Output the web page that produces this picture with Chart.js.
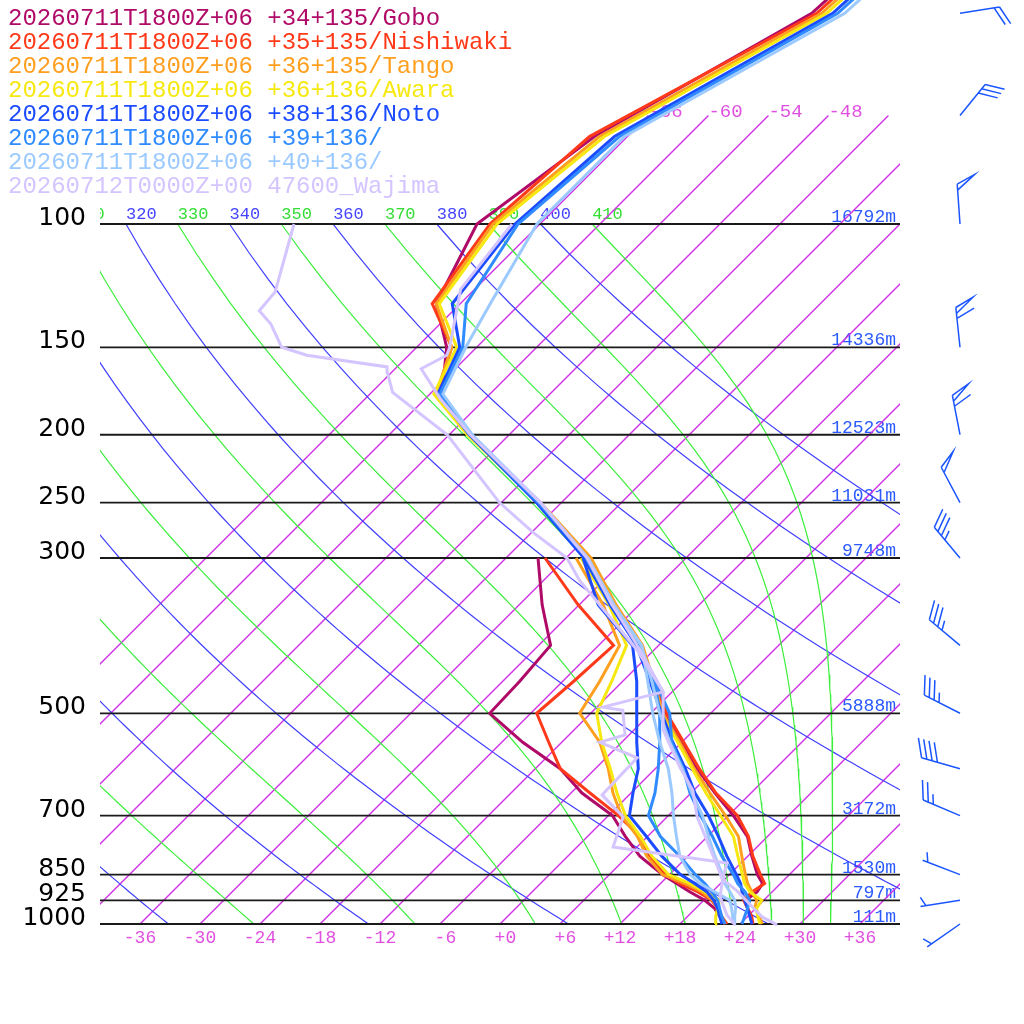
<!DOCTYPE html>
<html><head><meta charset="utf-8">
<script src="https://cdn.jsdelivr.net/npm/chart.js@4.4.1/dist/chart.umd.min.js"></script>
<style>html,body{margin:0;padding:0;background:#fff;}canvas{display:block;}</style>
</head><body>
<canvas id="c" width="1024" height="1024" style="width:1024px;height:1024px"></canvas>
<script>
// ---------------- data ----------------
const LEVELS = [1000,975,950,925,900,875,850,800,750,700,650,600,550,500,450,400,350,300,250,200,175,150,130,100,75,50,30];
const TD_LEVELS = LEVELS.slice(0,18); // 1000 .. 300 hPa

const STATION_NAMES = [
  "20260711T1800Z+06 +34+135/Gobo",
  "20260711T1800Z+06 +35+135/Nishiwaki",
  "20260711T1800Z+06 +36+135/Tango",
  "20260711T1800Z+06 +36+136/Awara",
  "20260711T1800Z+06 +38+136/Noto",
  "20260711T1800Z+06 +39+136/",
  "20260711T1800Z+06 +40+136/",
  "20260712T0000Z+00 47600_Wajima"
];
const STATION_COLORS = ["#b00a68","#ff3a1a","#ff9f1f","#f6e810","#1c4cff","#2f8bff","#9ccaff","#d4c4ff"];

const GOBO_T      = [25.2,24.3,23.2,22.2,22.5,22.2,20.8,18.4,16.0,12.5,8.4,4.2,0.0,-4.6,-9.1,-13.9,-20.7,-28.1,-38.4,-51.9,-58.8,-63.0,-68.4,-72.3,-69.3,-59.9,-58.3];
const NISHIWAKI_T = [25.3,24.4,23.2,22.0,22.0,22.4,21.1,18.5,16.1,12.9,8.5,4.4,0.2,-4.4,-9.0,-13.8,-20.7,-28.1,-38.3,-52.0,-59.3,-62.5,-68.8,-71.0,-69.8,-59.4,-57.8];
const TANGO_T     = [26.2,25.2,23.9,23.3,22.0,20.7,19.6,17.4,15.1,11.7,7.9,3.9,-0.2,-4.8,-8.9,-13.6,-20.3,-27.5,-38.1,-52.1,-59.4,-62.5,-68.4,-70.7,-68.8,-58.9,-57.3];
const AWARA_T     = [26.0,25.0,24.1,23.8,21.8,20.4,19.3,17.0,14.6,11.2,7.5,3.7,-0.4,-5.0,-9.2,-14.0,-20.8,-28.0,-38.3,-52.2,-59.6,-62.0,-68.1,-70.3,-68.3,-58.4,-56.8];
const NOTO_T      = [25.2,24.2,23.2,22.1,21.0,20.0,18.7,15.9,13.1,10.0,6.4,3.0,-0.9,-4.9,-9.3,-14.2,-20.9,-28.2,-38.5,-52.0,-59.2,-61.7,-66.8,-68.5,-67.3,-57.8,-56.2];
const P39_T       = [24.2,23.7,23.2,22.6,21.3,19.7,18.4,15.4,12.5,9.2,5.9,2.8,-1.0,-4.1,-8.8,-13.9,-20.7,-27.9,-38.3,-51.9,-59.0,-61.4,-65.4,-68.2,-66.8,-57.3,-55.7];
const P40_T       = [23.4,22.7,22.0,21.1,19.8,18.4,17.3,14.7,12.1,9.4,6.1,2.7,-1.2,-5.1,-9.1,-13.7,-20.5,-27.8,-38.1,-51.7,-58.7,-61.1,-63.0,-66.3,-66.3,-56.6,-55.0];

const GOBO_TD      = [22.5,21.2,19.9,18.1,15.8,13.6,11.3,7.2,3.8,0.4,-4.9,-9.5,-15.9,-22.1,-22.3,-22.8,-27.7,-32.8];
const NISHIWAKI_TD = [22.7,21.4,20.2,18.8,16.6,13.9,11.6,8.2,5.3,1.0,-4.1,-9.5,-13.3,-17.4,-16.9,-16.5,-24.1,-32.1];
const TANGO_TD     = [22.5,21.4,20.2,18.9,17.0,14.4,11.3,7.9,5.0,1.3,-1.8,-4.7,-8.2,-13.1,-14.3,-15.9,-21.6,-29.0];
const AWARA_TD     = [21.5,20.8,20.2,19.6,17.3,14.9,11.9,8.4,5.3,1.7,-1.4,-4.5,-8.0,-11.4,-13.1,-15.2,-21.0,-28.5];
const NOTO_TD      = [22.2,21.2,20.2,19.0,17.5,15.4,13.1,9.4,5.9,2.1,0.2,-1.7,-4.5,-7.4,-10.6,-14.6,-22.1,-28.3];
const P39_TD       = [22.5,21.4,20.4,19.4,18.0,16.4,14.6,11.2,7.3,4.0,2.4,0.3,-2.2,-5.1,-8.8,-13.9,-20.7,-28.0];
const P40_TD       = [23.3,22.5,21.6,20.6,18.3,15.9,14.1,11.2,8.9,6.5,4.1,1.3,-2.2,-5.8,-9.5,-13.7,-20.7,-27.8];

const WAJIMA_T_P  = [1003,977,897,862,818,703,644,597,528,466,406,350,300,250,200,178,161,154,150,140,124,100];
const WAJIMA_T    = [27.8,25.5,20.4,17.7,15.5,9.0,5.9,2.3,-3.1,-6.9,-13.4,-20.7,-27.9,-38.1,-51.9,-58.4,-63.4,-62.2,-62.7,-64.4,-67.4,-68.8];
const WAJIMA_TD_P = [1003,971,915,857,818,776,703,654,579,550,537,495,490,466,406,323,300,276,250,200,174,163,160,154,150,139,133,125,100];
const WAJIMA_TD   = [23.6,21.8,19.3,17.6,16.6,3.6,1.6,-2.7,-2.9,-8.2,-6.4,-9.1,-11.4,-6.9,-13.7,-26.4,-29.9,-35.8,-42.2,-54.2,-63.9,-66.4,-67.0,-76.2,-79.5,-82.9,-85.4,-85.7,-90.6];

const WIND_P   = [1000,925,850,700,600,500,400,300,250,200,150,100,70,50];
const WIND_DIR = [235,261,291,293,286,297,310,320,332,349,354,356,39,81];
const WIND_KT  = [5,5,5,25,40,35,35,35,50,60,60,50,30,20];

const P_LINES   = [100,150,200,250,300,500,700,850,925,1000];
const HEIGHTS_M = [16792,14336,12523,11031,9748,5888,3172,1530,797,111];
const X_TICKS   = [-36,-30,-24,-18,-12,-6,0,6,12,18,24,30,36];
const ISOTHERMS = [-66,-60,-54,-48,-42,-36,-30,-24,-18,-12,-6,0,6,12,18,24,30,36];
const ISO_LABELS = [-66,-60,-54,-48];
const DRY_THETA = [240,260,280,300,320,340,360,380,400];
const MOIST_THETA = [230,250,270,290,310,330,350,370,390,410];

// ---------------- helpers ----------------
const KAPPA = 0.2857;
const SKEW = 30.4;            // skew in x-units per ln(1000/p)
const P_TOP = 1000/Math.exp(924/304);
const sx = (T,p) => T + SKEW*Math.log(1000/p);
const prof = (levels, temps) => temps.map((t,i)=>({x:sx(t,levels[i]), y:levels[i]}));

function moistCurve(theta){
  const Rd=287.04, cp=1005.7, Lv=2.501e6, eps=0.622;
  const f=(T,p)=>{const es=6.112*Math.exp(17.67*(T-273.15)/(T-29.65)); const rs=eps*es/(p-es);
    return (Rd*T+Lv*rs)/(p*(cp+Lv*Lv*rs*eps/(Rd*T*T)));};
  let p=100, T=theta*Math.pow(0.1,KAPPA);
  const pts=[{x:sx(T-273.15,p),y:p}];
  const dp=1;
  for(let i=0;i<900;i++){
    const k1=f(T,p),k2=f(T+k1*dp/2,p+dp/2),k3=f(T+k2*dp/2,p+dp/2),k4=f(T+k3*dp,p+dp);
    T+=dp*(k1+2*k2+2*k3+k4)/6; p+=dp;
    if(i%10===9) pts.push({x:sx(T-273.15,p),y:p});
  }
  return pts;
}
function dryCurve(theta){
  const pts=[]; for(let p=100;p<=1000;p+=10) pts.push({x:sx(theta*Math.pow(p/1000,KAPPA)-273.15,p),y:p});
  return pts;
}
function isoLine(T){ return [{x:sx(T,70),y:70},{x:sx(T,1000),y:1000}]; }
function bg(data,color,width,order){
  return {type:'line',data,showLine:true,borderColor:color,backgroundColor:color,
    borderWidth:width,pointRadius:0,pointHoverRadius:0,fill:false,tension:0,clip:0,order};
}
function line(data,color,order){
  return {type:'line',data,showLine:true,borderColor:color,backgroundColor:color,borderWidth:3,pointRadius:0,pointHoverRadius:0,fill:false,tension:0,
    clip:{left:0,top:20,right:0,bottom:6},order,borderJoinStyle:'miter'};
}

const datasets=[];
ISOTHERMS.forEach(T=>datasets.push(bg(isoLine(T),'#d030e4',1.4,40)));
DRY_THETA.forEach(th=>datasets.push(bg(dryCurve(th),'#4040ff',1.2,39)));
MOIST_THETA.forEach(th=>datasets.push(bg(moistCurve(th),'#3cee3c',1.2,38)));
P_LINES.forEach(p=>{const d=bg([{x:-40,y:p},{x:40,y:p}],'#1a1a1a',1.8,37); d.clip=false; datasets.push(d);});

const MODEL_T  = [GOBO_T,NISHIWAKI_T,TANGO_T,AWARA_T,NOTO_T,P39_T,P40_T];
const MODEL_TD = [GOBO_TD,NISHIWAKI_TD,TANGO_TD,AWARA_TD,NOTO_TD,P39_TD,P40_TD];
MODEL_T.forEach((t,i)=>{
  datasets.push(line(prof(LEVELS,t),STATION_COLORS[i],30-i));
  datasets.push(line(prof(TD_LEVELS,MODEL_TD[i]),STATION_COLORS[i],30-i));
});
datasets.push(line(prof(WAJIMA_T_P,WAJIMA_T),STATION_COLORS[7],20));
datasets.push(line(prof(WAJIMA_TD_P,WAJIMA_TD),STATION_COLORS[7],20));

// ---------------- text & barbs ----------------
const MONO="'Liberation Mono'";
function fmtT(t){const s=(t<0?'-':'+')+Math.abs(t); return s.length<3?' '+s:s;}

const textPlugin={
  id:'skewtText',
  beforeDraw(chart){
    const ctx=chart.ctx; ctx.save(); ctx.fillStyle='#fff'; ctx.fillRect(0,0,chart.width,chart.height); ctx.restore();
  },
  beforeDatasetsDraw(chart){
    const ctx=chart.ctx, xs=chart.scales.x, ys=chart.scales.y, ca=chart.chartArea;
    ctx.save();
    ctx.textBaseline='alphabetic';
    ctx.font="24px "+MONO; ctx.textAlign='left';
    STATION_NAMES.forEach((n,i)=>{ctx.fillStyle=STATION_COLORS[i]; ctx.fillText(n,8,25+24*i);});
    ctx.font="25px 'DejaVu Sans'"; ctx.textAlign='right'; ctx.fillStyle='#000';
    P_LINES.forEach(p=>ctx.fillText(String(p),86,ys.getPixelForValue(p)+1));
    ctx.font="18px "+MONO; ctx.fillStyle='#2a5aff';
    P_LINES.forEach((p,i)=>ctx.fillText(HEIGHTS_M[i]+'m',896,ys.getPixelForValue(p)-2));
    ctx.font="18px "+MONO; ctx.textAlign='center'; ctx.fillStyle='#e050e0';
    X_TICKS.forEach(t=>ctx.fillText(fmtT(t),xs.getPixelForValue(t),ys.getPixelForValue(1000)+19));
    ctx.font="19px "+MONO; ctx.textAlign='left';
    ISO_LABELS.forEach(t=>ctx.fillText(String(t),xs.getPixelForValue(sx(t,70)),ys.getPixelForValue(70)+1.5));
    ctx.beginPath(); ctx.rect(ca.left,0,ca.right-ca.left,ca.bottom); ctx.clip();
    ctx.font="17px "+MONO;
    const y100=ys.getPixelForValue(100);
    const lab=(th,col)=>{ctx.fillStyle=col; ctx.fillText(String(th),xs.getPixelForValue(sx(th*Math.pow(0.1,KAPPA)-273.15,100)),y100-5);};
    DRY_THETA.forEach(th=>lab(th,'#4444ff'));
    MOIST_THETA.forEach(th=>lab(th,'#33dd33'));
    ctx.restore();
  },
  afterDraw(chart){
    const ctx=chart.ctx, ys=chart.scales.y;
    ctx.save();
    ctx.strokeStyle='#1a55ff'; ctx.lineWidth=1.5; ctx.lineJoin='miter';
    WIND_P.forEach((p,i)=>drawBarb(ctx,960,ys.getPixelForValue(p),WIND_DIR[i],WIND_KT[i]));
    ctx.restore();
  }
};
function drawBarb(ctx,x0,y0,dir,spd){
  const L=40, sp=5.5, fl=20, a=dir*Math.PI/180;
  const ux=Math.sin(a), uy=-Math.cos(a);
  const tx=x0+ux*L, ty=y0+uy*L;
  const r=65*Math.PI/180;
  const fx=ux*Math.cos(r)-uy*Math.sin(r), fy=ux*Math.sin(r)+uy*Math.cos(r);
  ctx.beginPath(); ctx.moveTo(x0,y0); ctx.lineTo(tx,ty);
  let s=Math.round(spd/5)*5, pos=0;
  while(s>=50){const bx=tx-ux*pos,by=ty-uy*pos; ctx.moveTo(bx,by); ctx.lineTo(bx+fx*fl,by+fy*fl); ctx.lineTo(bx-ux*6,by-uy*6); pos+=11; s-=50;}
  while(s>=10){const bx=tx-ux*pos,by=ty-uy*pos; ctx.moveTo(bx,by); ctx.lineTo(bx+fx*fl,by+fy*fl); pos+=sp; s-=10;}
  if(s>=5){ if(pos===0) pos=sp; const bx=tx-ux*pos,by=ty-uy*pos; ctx.moveTo(bx,by); ctx.lineTo(bx+fx*fl/2,by+fy*fl/2);}
  ctx.stroke();
}

new Chart(document.getElementById('c'),{
  type:'line',
  data:{datasets},
  options:{
    responsive:false, animation:false, devicePixelRatio:1,
    layout:{padding:{left:100,right:124,top:0,bottom:100}},
    plugins:{legend:{display:false},tooltip:{enabled:false},colors:{enabled:false}},
    events:[],
    elements:{point:{radius:0}},
    scales:{
      x:{type:'linear',min:-40,max:40,display:false,bounds:'data'},
      y:{type:'logarithmic',min:P_TOP,max:1000,reverse:true,display:false,bounds:'data'}
    }
  },
  plugins:[textPlugin]
});
</script>
</body></html>
